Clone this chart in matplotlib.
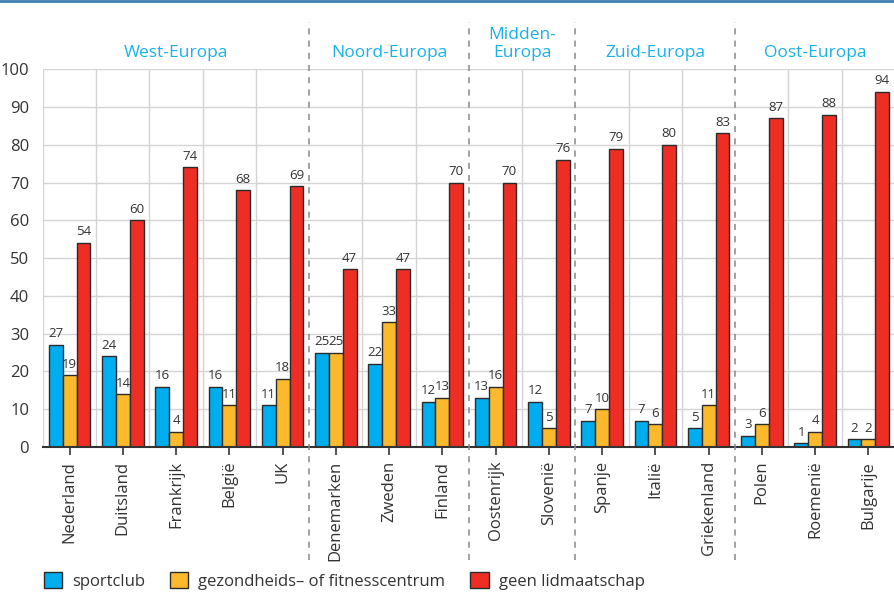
import matplotlib.pyplot as plt
from matplotlib.patches import Patch
from matplotlib.transforms import blended_transform_factory
import numpy as np

plt.rcParams['font.family'] = ['Open Sans', 'DejaVu Sans']

landen = ["Nederland", "Duitsland", "Frankrijk", "België", "UK",
          "Denemarken", "Zweden", "Finland",
          "Oostenrijk", "Slovenië",
          "Spanje", "Italië", "Griekenland",
          "Polen", "Roemenië", "Bulgarije"]
sportclub = [27, 24, 16, 16, 11, 25, 22, 12, 13, 12, 7, 7, 5, 3, 1, 2]
fitness = [19, 14, 4, 11, 18, 25, 33, 13, 16, 5, 10, 6, 11, 6, 4, 2]
geen_lid = [54, 60, 74, 68, 69, 47, 47, 70, 70, 76, 79, 80, 83, 87, 88, 94]

regio_namen = ["West-Europa", "Noord-Europa", "Midden-\nEuropa", "Zuid-Europa", "Oost-Europa"]
regio_grootte = [5, 3, 2, 3, 3]

series = [("sportclub", sportclub, "#00aeef"),
          ("gezondheids– of fitnesscentrum", fitness, "#fdb92c"),
          ("geen lidmaatschap", geen_lid, "#ee2e24")]

fig = plt.figure(figsize=(8.95, 5.94), dpi=100)
ax = fig.add_axes([0.048, 0.2475, 0.952, 0.636])

x = np.arange(len(landen))
w = 0.26
tekst = "#333333"

# grid
grenzen = np.cumsum(regio_grootte)[:-1] - 0.5
for yv in range(0, 101, 10):
    ax.axhline(yv, color="#d4d4d4", lw=1, zorder=0)
for b in np.arange(-0.5, len(landen), 1.0):
    if b in grenzen:
        continue
    ax.axvline(b, color="#d4d4d4", lw=1, zorder=0)

for i, (naam, vals, kleur) in enumerate(series):
    pos = x + (i - 1) * w
    ax.bar(pos, vals, width=w, color=kleur, edgecolor="#2b2b2b", lw=1, zorder=3, label=naam)
    for p, v in zip(pos, vals):
        ax.text(p, v + 1.2, str(v), ha="center", va="bottom", fontsize=9.5, color=tekst, zorder=4)

ax.set_xlim(-0.5, len(landen) - 0.5)
ax.set_ylim(0, 100)
ax.set_yticks(range(0, 101, 10))
ax.set_xticks(x)
ax.set_xticklabels(landen, rotation=90, fontsize=12, color=tekst)
ax.tick_params(axis="y", length=0, labelsize=12, labelcolor=tekst, pad=10)
ax.tick_params(axis="x", length=6, width=1.2, color="#333333", pad=4)
for s in ["top", "right", "left"]:
    ax.spines[s].set_visible(False)
ax.spines["bottom"].set_color("#333333")
ax.spines["bottom"].set_linewidth(1.5)
ax.spines["bottom"].set_zorder(5)

# scheidingslijnen tussen regio's
tr = blended_transform_factory(ax.transData, fig.transFigure)
for b in grenzen:
    ax.plot([b, b], [0.057, 0.963], transform=tr, clip_on=False,
            color="#888888", lw=1.1, ls=(0, (4, 4)), zorder=6)

# regionamen
start = 0
for naam, n in zip(regio_namen, regio_grootte):
    mid = start + (n - 1) / 2
    ax.text(mid, 0.897, naam, transform=tr, ha="center", va="bottom",
            fontsize=12.5, color="#1ab0ec", linespacing=1.2)
    start += n

# blauwe lijn bovenaan
fig.add_artist(plt.Line2D([0, 1], [0.998, 0.998], color="#3d7fb3", lw=2))

handles = [Patch(facecolor=k, edgecolor="#2b2b2b", lw=1, label=n) for n, _, k in series]
fig.legend(handles=handles, loc="lower left", bbox_to_anchor=(0.032, -0.018), ncol=3,
           frameon=False, fontsize=12, handlelength=1.1, handleheight=1.1,
           columnspacing=1.5, handletextpad=0.6, labelcolor=tekst)

fig.savefig("out.png", dpi=100)
